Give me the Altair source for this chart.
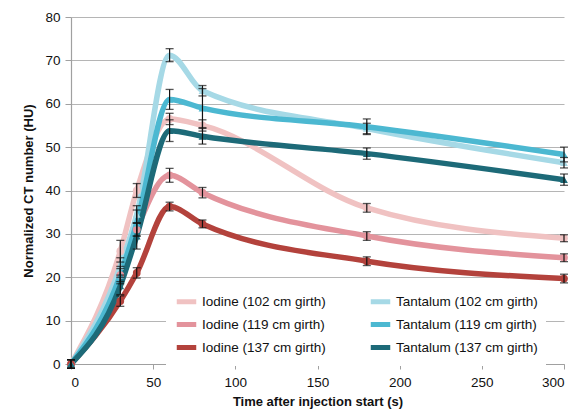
import altair as alt
import pandas as pd

times = [0, 30, 40, 60, 80, 180, 300]

series_names = [
    "Iodine (102 cm girth)",
    "Iodine (119 cm girth)",
    "Iodine (137 cm girth)",
    "Tantalum (102 cm girth)",
    "Tantalum (119 cm girth)",
    "Tantalum (137 cm girth)",
]
series_colors = ["#f0c2c2", "#e3939c", "#b3423c", "#a6d9e6", "#4cb8d1", "#1d6a78"]
series_shapes = ["circle", "circle", "circle", "triangle-up", "triangle-up", "triangle-up"]

iodine_102 = [0, 26, 40, 56.5, 55, 36, 29]
iodine_119 = [0, 20.5, 31, 43.5, 39.5, 29.5, 24.5]
iodine_137 = [0, 14.5, 21, 36.3, 32.3, 23.7, 19.7]
tantalum_102 = [0, 22.5, 34.5, 71.2, 63, 54.3, 46.4]
tantalum_119 = [0, 20.5, 32.5, 61, 59, 54.7, 48.3]
tantalum_137 = [0, 18, 29.5, 53.8, 52.5, 48.5, 42.5]

err_i102 = [1, 2.5, 1.6, 1.3, 1.3, 1.0, 0.8]
err_i119 = [1, 1.5, 1.5, 1.6, 1.2, 1.0, 0.9]
err_i137 = [1, 1.2, 1.2, 1.0, 0.9, 1.0, 1.0]
err_t102 = [1, 2.0, 2.0, 1.5, 1.2, 1.2, 1.2]
err_t119 = [1, 2.0, 3.0, 2.3, 4.5, 1.8, 1.7]
err_t137 = [1, 2.0, 3.0, 2.5, 1.8, 1.3, 1.3]

values = {
    series_names[0]: (iodine_102, err_i102),
    series_names[1]: (iodine_119, err_i119),
    series_names[2]: (iodine_137, err_i137),
    series_names[3]: (tantalum_102, err_t102),
    series_names[4]: (tantalum_119, err_t119),
    series_names[5]: (tantalum_137, err_t137),
}

rows = []
for k, name in enumerate(series_names):
    vals, errs = values[name]
    for t, v, e in zip(times, vals, errs):
        rows.append({"series": name, "marker": name, "order": k, "t": t, "v": v,
                     "lo": v - e, "hi": v + e})
df = pd.DataFrame(rows)

font = "Liberation Sans"

x = alt.X("t:Q", scale=alt.Scale(domain=[0, 300], nice=False),
          axis=alt.Axis(values=list(range(0, 301, 50)), title="Time after injection start (s)",
                        grid=False, tickSize=5, labelPadding=6, titlePadding=7))
y = alt.Y("v:Q", scale=alt.Scale(domain=[0, 80], nice=False),
          axis=alt.Axis(values=list(range(0, 81, 10)), title="Normalized CT number (HU)",
                        grid=True, tickSize=6, labelPadding=5, titlePadding=9))
color_scale = alt.Scale(domain=series_names, range=series_colors)

lines = alt.Chart(df).mark_line(strokeWidth=5.5, interpolate="monotone").encode(
    x=x, y=y,
    color=alt.Color("series:N", scale=color_scale,
                    legend=alt.Legend(title=None, orient="none", legendX=95, legendY=264,
                                      columns=2, columnPadding=34, rowPadding=0,
                                      symbolType="stroke", symbolStrokeWidth=5, symbolSize=380,
                                      labelFontSize=13.5, labelFont=font, labelColor="#111",
                                      labelOffset=3, fillColor="white", padding=8,
                                      labelLimit=300)),
    detail="order:O",
)

points = alt.Chart(df).mark_point(filled=True, size=60, opacity=1).encode(
    x="t:Q", y="v:Q",
    color=alt.Color("marker:N", scale=alt.Scale(domain=series_names, range=series_colors), legend=None),
    shape=alt.Shape("marker:N", scale=alt.Scale(domain=series_names, range=series_shapes), legend=None),
)

bars = alt.Chart(df).mark_rule(color="#111", strokeWidth=1.2).encode(
    x="t:Q", y="lo:Q", y2="hi:Q"
)
caps_hi = alt.Chart(df).mark_tick(color="#111", thickness=1.3, size=8, orient="horizontal").encode(
    x="t:Q", y="hi:Q"
)
caps_lo = alt.Chart(df).mark_tick(color="#111", thickness=1.3, size=8, orient="horizontal").encode(
    x="t:Q", y="lo:Q"
)

chart = alt.layer(lines, points, bars, caps_hi, caps_lo).properties(
    width=493, height=347,
    background="white",
    autosize=alt.AutoSizeParams(type="none"),
    padding={"left": 63, "top": 9, "right": 8, "bottom": 46},
).resolve_scale(color="independent").configure_view(stroke=None).configure_axis(
    labelFont=font, titleFont=font, labelFontSize=13.5, titleFontSize=13,
    titleFontWeight="bold", labelColor="#111", titleColor="#111",
    gridColor="#b5b5b5", gridWidth=1, domainColor="#a0a0a0", tickColor="#a0a0a0",
    domainWidth=1.2,
)

chart.save("out.html", embed_options={"renderer": "svg", "actions": False})
